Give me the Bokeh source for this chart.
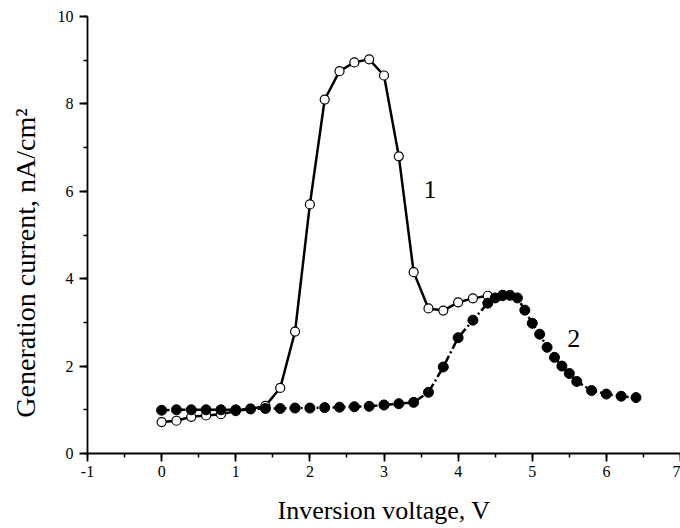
from bokeh.plotting import figure
from bokeh.models import Range1d, SingleIntervalTicker, ColumnDataSource, CustomJSTickFormatter
from bokeh.core.properties import value
from bokeh.embed import file_html
from bokeh.resources import INLINE

# Curve 1 (open circles)
v1 = [0.0, 0.2, 0.4, 0.6, 0.8, 1.0, 1.2, 1.4, 1.6, 1.8, 2.0, 2.2, 2.4, 2.6, 2.8,
      3.0, 3.2, 3.4, 3.6, 3.8, 4.0, 4.2, 4.4, 4.6]
i1 = [0.72, 0.75, 0.84, 0.87, 0.90, 0.97, 1.02, 1.09, 1.50, 2.79, 5.70, 8.10, 8.75, 8.95, 9.02,
      8.65, 6.80, 4.15, 3.32, 3.27, 3.46, 3.55, 3.61, 3.63]

# Curve 2 (filled circles)
v2 = [0.0, 0.2, 0.4, 0.6, 0.8, 1.0, 1.2, 1.4, 1.6, 1.8, 2.0, 2.2, 2.4, 2.6, 2.8,
      3.0, 3.2, 3.4, 3.6, 3.8, 4.0, 4.2, 4.4, 4.5, 4.6, 4.7, 4.8, 4.9, 5.0, 5.1,
      5.2, 5.3, 5.4, 5.5, 5.6, 5.8, 6.0, 6.2, 6.4]
i2 = [0.99, 1.00, 1.00, 1.00, 1.00, 1.00, 1.02, 1.03, 1.03, 1.04, 1.04, 1.05, 1.06, 1.07, 1.08,
      1.11, 1.14, 1.17, 1.40, 1.98, 2.65, 3.05, 3.44, 3.56, 3.61, 3.62, 3.56, 3.28, 2.98, 2.73,
      2.43, 2.20, 2.00, 1.83, 1.65, 1.44, 1.36, 1.31, 1.28]

curve_labels = ["1", "2"]
label_x = [3.62, 5.56]
label_y = [6.05, 2.63]

FONT = "Liberation Serif"
NBSP = "\u00a0"

p = figure(width=680, height=528, output_backend="svg", toolbar_location=None,
           x_range=Range1d(-1, 7), y_range=Range1d(0, 10),
           min_border_left=87, min_border_right=0, min_border_top=16, min_border_bottom=75)
p.outline_line_color = None
p.xgrid.visible = False
p.ygrid.visible = False
p.background_fill_color = "white"
p.border_fill_color = "white"

p.xaxis.ticker = SingleIntervalTicker(interval=1, num_minor_ticks=2)
p.yaxis.ticker = SingleIntervalTicker(interval=2, num_minor_ticks=2)
fmt = "return tick.toString();"
p.xaxis.formatter = CustomJSTickFormatter(code=fmt)
p.yaxis.formatter = CustomJSTickFormatter(code=fmt)
for ax in (p.xaxis, p.yaxis):
    ax.axis_line_width = 1.8
    ax.axis_line_color = "black"
    ax.major_tick_line_width = 1.8
    ax.minor_tick_line_width = 1.5
    ax.major_tick_line_color = "black"
    ax.minor_tick_line_color = "black"
    ax.major_tick_in = 0
    ax.major_tick_out = 8
    ax.minor_tick_in = 0
    ax.minor_tick_out = 4
    ax.major_label_text_font = FONT
    ax.major_label_text_font_size = "16px"
    ax.major_label_text_color = "black"
    ax.axis_label_text_font = FONT
    ax.axis_label_text_font_style = "normal"
    ax.axis_label_text_color = "black"

p.xaxis.axis_label_text_font_size = "26px"
p.yaxis.axis_label_text_font_size = "28px"
p.xaxis.axis_label = "Inversion voltage, V"
p.yaxis.axis_label = "Generation current, nA/cm²" + NBSP * 8
p.xaxis.major_label_standoff = 4
p.xaxis.axis_label_standoff = 16
p.yaxis.major_label_standoff = 6
p.yaxis.axis_label_standoff = 14

s1 = ColumnDataSource(dict(x=v1, y=i1))
s2 = ColumnDataSource(dict(x=v2, y=i2))

p.line("x", "y", source=s1, line_color="black", line_width=2.5)
p.scatter("x", "y", source=s1, size=9, marker="circle", fill_color="white",
          line_color="black", line_width=1.2)
p.line("x", "y", source=s2, line_color="black", line_width=2.5, line_dash="8 3 2 3")
p.scatter("x", "y", source=s2, size=10, marker="circle", fill_color="black",
          line_color="black", line_width=1)

p.text(x=label_x, y=label_y, text=curve_labels, text_font=value(FONT),
       text_font_size="26px", text_color="black", text_align="center",
       text_baseline="middle")

open("out.html", "w").write(file_html(p, INLINE))
